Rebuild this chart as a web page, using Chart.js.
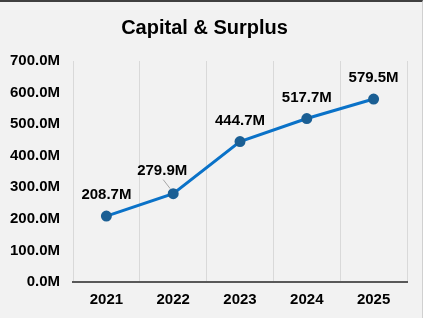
<!DOCTYPE html>
<html>
<head>
<meta charset="utf-8">
<script src="https://cdn.jsdelivr.net/npm/chart.js@4.4.1/dist/chart.umd.min.js"></script>
<style>
  html, body { margin: 0; padding: 0; background: #f2f2f2; }
  #wrap { width: 423px; height: 318px; box-sizing: border-box; border-top: 2px solid #404040; border-right: 1px solid #d0d0d0; }
</style>
</head>
<body>
<div id="wrap"><canvas id="chart" width="422" height="316"></canvas></div>
<script>
const years = ['2021', '2022', '2023', '2024', '2025'];
const capitalSurplus = [208.7, 279.9, 444.7, 517.7, 579.5];
const yTicks = [0, 100, 200, 300, 400, 500, 600, 700];

const FONT = '"Liberation Sans", Arial, sans-serif';

// draws the value labels above each point
const valueLabels = {
    id: 'valueLabels',
    afterDatasetsDraw(chart) {
        const ctx = chart.ctx;
        const meta = chart.getDatasetMeta(0);
        ctx.save();
        ctx.font = 'bold 15px ' + FONT;
        ctx.fillStyle = '#000';
        ctx.textAlign = 'center';
        ctx.textBaseline = 'middle';
        meta.data.forEach((pt, i) => {
            let x = pt.x, y = pt.y - 21;
            if (i === 1) {
                // this one is pulled off to the side with a leader line
                x = pt.x - 11;
                y = pt.y - 23;
                ctx.strokeStyle = '#a6a6a6';
                ctx.lineWidth = 1;
                ctx.beginPath();
                ctx.moveTo(pt.x - 10, pt.y - 14);
                ctx.lineTo(pt.x - 3, pt.y - 5);
                ctx.stroke();
            }
            ctx.fillText(capitalSurplus[i].toFixed(1) + 'M', x, y);
        });
        ctx.restore();
    }
};

new Chart(document.getElementById('chart').getContext('2d'), {
    type: 'line',
    data: {
        labels: years,
        datasets: [{
            data: capitalSurplus,
            borderColor: '#0a72c8',
            borderWidth: 3,
            pointBackgroundColor: '#1b5f94',
            pointBorderColor: '#1b5f94',
            pointRadius: 4,
            tension: 0
        }]
    },
    options: {
        responsive: false,
        animation: false,
        layout: { padding: { left: 2, right: 15, top: 6, bottom: 9 } },
        plugins: {
            legend: { display: false },
            tooltip: { enabled: false },
            title: {
                display: true,
                text: 'Capital & Surplus',
                color: '#000',
                font: { family: FONT, size: 20, weight: 'bold' },
                padding: { top: 8, bottom: 21 }
            }
        },
        scales: {
            y: {
                min: 0,
                max: 700,
                afterBuildTicks: (axis) => { axis.ticks = yTicks.map(v => ({ value: v })); },
                afterFit: (axis) => { axis.width = 71; },
                grid: { display: false, drawTicks: false },
                border: { color: '#d9d9d9', width: 1 },
                ticks: {
                    color: '#000',
                    padding: 13,
                    font: { family: FONT, size: 15, weight: 'bold' },
                    callback: (v) => v.toFixed(1) + 'M'
                }
            },
            x: {
                offset: true,
                afterFit: (axis) => { axis.height = 27; },
                grid: { offset: true, color: '#d9d9d9', drawTicks: false },
                border: { color: '#595959', width: 2 },
                ticks: {
                    color: '#000',
                    padding: 9,
                    font: { family: FONT, size: 15, weight: 'bold' }
                }
            }
        }
    },
    plugins: [valueLabels]
});
</script>
</body>
</html>
